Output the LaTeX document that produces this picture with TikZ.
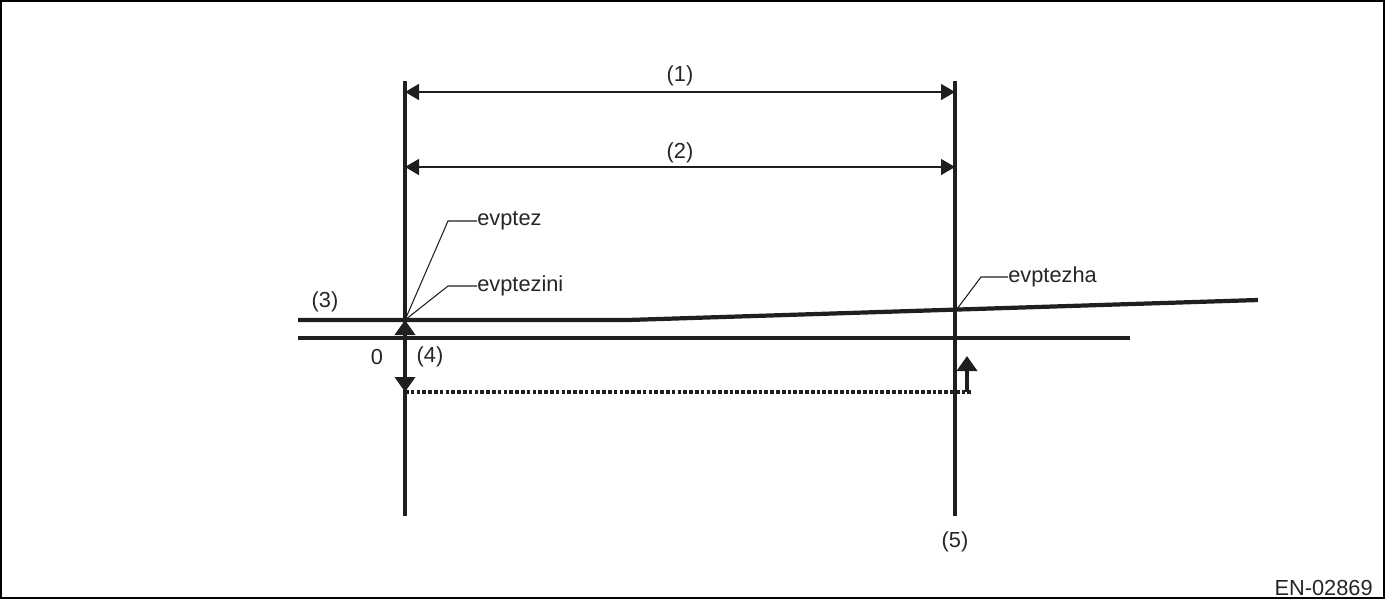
\documentclass[tikz,border=0pt]{standalone}
\usepackage{fontspec}
\setmainfont{Liberation Sans}
\usetikzlibrary{arrows.meta,positioning}
\tikzset{
    bar/.style={line width=2.4pt, draw=black!88},
    dim/.style={{Triangle[length=0.28cm,width=0.32cm]}-{Triangle[length=0.28cm,width=0.32cm]}, line width=0.8pt, draw=black!88},
    tip/.style={-{Triangle[length=0.3cm,width=0.4cm]}, line width=2.4pt, draw=black!88},
    lead/.style={line width=0.6pt, draw=black!88},
    lbl/.style={font=\fontsize{12.4}{14}\selectfont, inner sep=0pt, text=black!85}
}

\begin{document}
\begin{tikzpicture}[x=0.02cm, y=-0.02cm]
\useasboundingbox (0,0) rectangle (1386,599);
\draw[line width=0.6pt] (1,1) rectangle (1384,598);

% Coordinates
\coordinate (ltop) at (405,81);
\coordinate (lbot) at (405,516);
\coordinate (rtop) at (955,81);
\coordinate (rbot) at (955,516);
\coordinate (fstart) at (298,320);
\coordinate (fbend) at (628,320);
\coordinate (fend) at (1258,300);
\coordinate (zstart) at (298,338);
\coordinate (zend) at (1130,338);
\coordinate (hit) at (405,320);
\coordinate (zero) at (405,338);
\coordinate (low) at (405,392);
\coordinate (lowend) at (972,392);
\coordinate (rfoot) at (967,392);
\coordinate (rhead) at (967,356);
\coordinate (rhit) at (957,309);

% Verticals and levels
\draw[bar] (ltop) -- (lbot);
\draw[bar] (rtop) -- (rbot);
\draw[bar] (fstart) -- (fbend) -- (fend);
\draw[bar] (zstart) -- (zend);
\draw[line width=2.6pt, draw=black!88, dash pattern=on 2.1pt off 1.2pt] (low) -- (lowend);

% Dimension arrows
\draw[dim] (405,92) -- node[lbl, above=3pt] (d1) {(1)} (955,92);
\draw[dim] (405,167) -- node[lbl, above=2pt] (d2) {(2)} (955,167);

% Offset arrows
\draw[tip] (zero) -- (hit);
\draw[tip] (zero) -- (low);
\draw[tip] (rfoot) -- (rhead);

% Labels
\node[lbl, anchor=west] (ez) at (477,221) {evptez};
\node[lbl, anchor=west] (ezi) at (477,286) {evptezini};
\node[lbl, anchor=west] (ezh) at (1008,277) {evptezha};
\node[lbl] (n3) at (325,302) {(3)};
\node[lbl] (n0) at (377,357) {0};
\node[lbl] (n4) at (430,357) {(4)};
\node[lbl] (n5) at (955,542) {(5)};
\node[lbl, anchor=east] (code) at (1373,588) {EN-02869};

% Leaders
\draw[lead] (hit) -- (448,221) -- (ez.west);
\draw[lead] (hit) -- (448,286) -- (ezi.west);
\draw[lead] (rhit) -- (981,277) -- (ezh.west);

\end{tikzpicture}
\end{document}
